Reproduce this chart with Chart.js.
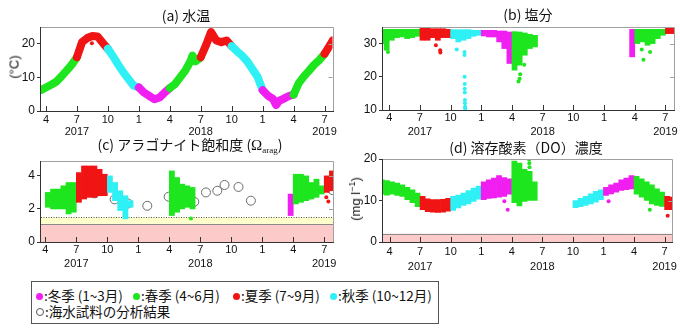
<!DOCTYPE html>
<html><head><meta charset="utf-8">
<script src="https://cdn.jsdelivr.net/npm/chart.js@4"></script>
<style>
html,body{margin:0;padding:0;background:#fff;}
body{width:680px;height:330px;position:relative;overflow:hidden;font-family:"Liberation Sans",Arial,sans-serif;}
canvas{position:absolute;}
.t{position:absolute;font-family:"Noto Sans CJK JP","Liberation Sans",sans-serif;font-size:14px;color:#111;white-space:nowrap;transform:translate(-50%,-50%);line-height:18px;}
.om{font-family:"Liberation Serif","Times New Roman",serif;font-size:15px;}
.om sub{font-size:9px;vertical-align:-3px;}
.yt{position:absolute;white-space:nowrap;font-family:"Liberation Sans",Arial,sans-serif;font-size:13px;color:#111;transform:translate(-50%,-50%) rotate(-90deg);}
.yt sup{font-size:9px;vertical-align:5px;}
#legend{position:absolute;left:31px;top:281px;width:408px;height:43px;box-sizing:border-box;border:1px solid #555;}
.li{position:absolute;white-space:nowrap;font-family:"Noto Sans CJK JP",sans-serif;font-size:13.5px;line-height:16px;color:#111;}
.li i{display:inline-block;width:7px;height:7px;border-radius:50%;margin-right:1px;vertical-align:1px;}
</style></head>
<body>
<canvas id="ca" width="340" height="140" style="left:0;top:0"></canvas>
<canvas id="cb" width="340" height="140" style="left:340px;top:0"></canvas>
<canvas id="cc" width="340" height="140" style="left:0;top:140px"></canvas>
<canvas id="cd" width="340" height="140" style="left:340px;top:140px"></canvas>

<div class="t" style="left:186px;top:15px">(a) 水温</div>
<div class="t" style="left:528px;top:14px">(b) 塩分</div>
<div class="t" style="left:190px;top:147px">(c) アラゴナイト飽和度 (<span class="om">Ω<sub>arag</sub></span>)</div>
<div class="t" style="left:526px;top:147px">(d) 溶存酸素（DO）濃度</div>
<div class="yt" style="left:14px;top:67px">(°C)</div>
<div class="yt" style="left:355px;top:199px">(mg l<sup>−1</sup>)</div>

<div id="legend">
  <div class="li" style="left:4px;top:5px"><i style="background:#f01ef0"></i>:冬季 (1~3月)</div>
  <div class="li" style="left:101px;top:5px"><i style="background:#1ee61e"></i>:春季 (4~6月)</div>
  <div class="li" style="left:201px;top:5px"><i style="background:#f01414"></i>:夏季 (7~9月)</div>
  <div class="li" style="left:298px;top:5px"><i style="background:#2ef0f5"></i>:秋季 (10~12月)</div>
  <div class="li" style="left:4px;top:21px"><i style="background:#fff;border:1px solid #555;width:6px;height:6px"></i>:海水試料の分析結果</div>
</div>

<script>
// ---- axis ticks (x = months since 1 Jan 2017) ----
const monthTicks = [3, 6, 9, 12, 15, 18, 21, 24, 27, 30];
const monthTickLabels = ['4', '7', '10', '1', '4', '7', '10', '1', '4', '7'];
const yearTickLabels = ['', '2017', '', '', '', '2018', '', '', '', '2019'];
const seasonColors = ['#f01ef0', '#1ee61e', '#f01414', '#2ef0f5']; // winter, spring, summer, autumn
const recordStart = 3; // observations before this point belong to the first (spring) batch

// ---- (a) water temperature (°C) ----
const tempX = [2.55, 3, 3.5, 4, 4.5, 5, 5.5, 6, 6.5, 7, 7.5, 8, 8.5, 9, 9.5, 10, 10.5, 11, 11.5, 12,
  12.5, 13, 13.5, 14, 14.5, 15, 15.5, 16, 16.5, 17, 17.2, 17.5, 18, 18.5, 19, 19.5, 20, 20.5, 21,
  21.5, 22, 22.5, 23, 23.5, 24, 24.5, 25, 25.3, 25.6, 26, 26.5, 27, 27.5, 28, 28.5, 29, 29.5, 30, 30.5, 30.8];
const tempY = [6.3, 7.0, 7.8, 8.7, 10.3, 12.0, 13.8, 16.0, 20.5, 21.7, 22.3, 22.2, 20.3, 18.5, 16.3, 13.8, 11.5, 9.5, 7.5, 7.0,
  5.5, 4.5, 3.5, 4.0, 5.5, 6.8, 8.0, 10.0, 12.0, 14.8, 16.5, 14.8, 16.0, 19.5, 23.5, 21.0, 20.5, 21.0, 19.3,
  17.8, 16.5, 14.8, 12.5, 10.2, 6.2, 4.6, 3.6, 1.8, 3.0, 3.6, 4.4, 4.9, 8.3, 10.3, 12.0, 13.8, 15.2, 17.0, 19.5, 21.0];
const tempDotX = [7.45];
const tempDotY = [20.2];

// ---- (b) salinity: half-month bands (low / high) ----
const salX = [2.25, 2.75, 3.25, 3.75, 4.25, 4.75, 5.25, 5.75, 6.25, 6.75, 7.25, 7.75, 8.25, 8.75,
  9.25, 9.75, 10.25, 10.75, 11.25, 11.75, 12.25, 12.75, 13.25, 13.75, 14.25, 14.75, 15.25, 15.75,
  16.25, 16.75, 17.25, 26.75, 27.25, 27.75, 28.25, 28.75, 29.25, 29.75, 30.25, 30.75];
const salLo = [30.0, 28.0, 31.0, 31.8, 32.0, 31.5, 31.8, 32.2, 31.0, 31.0, 31.8, 31.0, 31.8, 31.8,
  31.5, 30.5, 31.0, 31.5, 32.2, 32.5, 32.3, 32.0, 32.0, 30.5, 28.5, 24.0, 22.0, 23.5,
  26.5, 28.5, 29.0, 26.0, 30.0, 30.5, 29.5, 30.0, 31.5, 32.5, 33.0, 33.0];
const salHi = [34.3, 34.3, 34.3, 34.3, 34.3, 34.3, 34.3, 34.3, 35.0, 34.8, 34.5, 34.5, 34.5, 34.3,
  34.2, 34.2, 34.2, 34.2, 34.0, 34.0, 34.0, 34.0, 34.0, 33.8, 33.8, 33.5, 33.6, 33.5,
  33.2, 32.8, 32.5, 34.3, 34.3, 34.3, 34.3, 34.3, 34.3, 34.3, 34.6, 34.6];
const salDotX = [2.87, 7.56, 7.98, 8.0, 9.6, 10.36, 10.36, 10.37, 10.38, 10.38, 10.39, 10.4, 10.4, 10.41, 10.42,
  15.64, 15.74, 15.8, 16.2, 27.69, 27.85, 28.5];
const salDotY = [27.5, 29.5, 28.0, 27.3, 28.2, 27.5, 26.6, 20.0, 17.8, 16.4, 15.3, 13.0, 12.0, 11.0, 10.5,
  18.6, 19.4, 20.8, 23.6, 28.2, 25.1, 27.5];

// ---- (c) aragonite saturation: half-month bands ----
const aragX = [3.25, 3.75, 4.25, 4.75, 5.25, 5.75, 6.25, 6.75, 7.25, 7.75, 8.25, 8.75, 9.25, 9.75,
  10.25, 10.75, 11.25, 15.25, 15.75, 16.25, 16.75, 17.25, 26.75, 27.25, 27.75, 28.25, 28.75,
  29.25, 29.75, 30.25, 30.75];
const aragLo = [2.1, 2.0, 2.0, 2.0, 1.7, 1.8, 2.4, 2.6, 2.7, 2.7, 2.8, 2.8, 3.0, 2.5,
  1.9, 1.4, 2.1, 1.6, 1.8, 2.0, 2.1, 2.0, 1.6, 2.3, 2.4, 2.5, 2.6,
  2.7, 2.9, 3.0, 3.1];
const aragHi = [3.0, 3.2, 3.2, 3.4, 3.6, 3.6, 4.2, 4.6, 4.6, 4.6, 4.4, 4.1, 4.0, 3.6,
  3.1, 2.8, 2.5, 4.3, 3.9, 3.5, 3.4, 3.3, 2.9, 4.1, 4.1, 4.0, 3.6,
  3.8, 3.4, 4.0, 4.3];
const aragDotX = [8.3, 17.1, 30.2, 30.4];
const aragDotY = [4.3, 1.42, 2.7, 2.45];
const sampleX = [7.77, 9.71, 11.0, 12.87, 14.94, 16.45, 17.42, 18.55, 19.65, 20.35, 21.7, 22.9, 28.65, 30.8];
const sampleY = [2.94, 2.58, 2.33, 2.19, 2.74, 2.62, 2.43, 3.0, 3.1, 3.45, 3.33, 2.5, 2.88, 3.14];
const aragLimitLow = 1.1;   // top of pink band
const aragLimitHigh = 1.5;  // dotted line / top of yellow band

// ---- (d) dissolved oxygen (mg/l): half-month bands ----
const doX = [2.25, 2.75, 3.25, 3.75, 4.25, 4.75, 5.25, 5.75, 6.25, 6.75, 7.25, 7.75, 8.25, 8.75,
  9.25, 9.75, 10.25, 10.75, 11.25, 11.75, 12.25, 12.75, 13.25, 13.75, 14.25, 14.75,
  15.25, 15.75, 16.25, 16.75, 17.25, 21.25, 21.75, 22.25, 22.75, 23.25, 23.75,
  24.25, 24.75, 25.25, 25.75, 26.25, 26.75, 27.25, 27.75, 28.25, 28.75, 29.25, 29.75, 30.25, 30.75];
const doLo = [11.5, 11.3, 11.5, 11.2, 11.0, 10.2, 9.5, 8.5, 7.8, 7.3, 7.2, 7.1, 7.2, 7.4,
  7.6, 8.2, 8.8, 9.2, 9.8, 10.3, 10.2, 10.5, 10.6, 10.8, 11.0, 11.5,
  9.5, 8.7, 9.8, 10.0, 10.0, 8.3, 8.5, 8.8, 9.2, 9.6, 10.2,
  11.2, 11.6, 12.0, 12.4, 12.6, 12.8, 11.5, 10.8, 10.0, 9.2, 8.8, 8.6, 7.8, 7.8];
const doHi = [15.0, 14.8, 14.5, 14.2, 13.8, 13.2, 12.6, 11.8, 11.0, 10.4, 10.2, 10.2, 10.3, 10.5,
  11.0, 11.3, 11.8, 12.4, 13.0, 13.5, 14.5, 15.0, 15.4, 16.0, 15.5, 15.2,
  19.5, 19.0, 17.5, 17.0, 14.5, 10.0, 10.5, 11.0, 11.6, 12.2, 12.6,
  13.2, 13.8, 14.2, 15.0, 15.4, 16.0, 15.8, 15.2, 14.5, 13.8, 12.8, 12.0, 11.0, 10.8];
const doDotX = [14.27, 14.6, 16.7, 16.72, 16.74, 24.5, 28.55, 30.3];
const doDotY = [9.8, 7.8, 19.8, 19.0, 18.0, 9.8, 7.8, 6.3];
const doLimit = 2;

// ---- helpers ----
function seasonOf(x) {
  if (x < recordStart) return 1;
  const m = ((Math.floor(x) % 12) + 12) % 12; return Math.floor(m / 3);
}
function colorAt(x) { return seasonColors[seasonOf(x)]; }
const pts = (xs, ys) => xs.map((x, i) => ({ x: x, y: ys[i] }));
const bandPts = (xs, lo, hi) => xs.map((x, i) => ({ x: x, y: [lo[i], hi[i]] }));

const framePlugin = {
  id: 'frame',
  beforeDatasetsDraw(chart, args, opts) {
    const { ctx, chartArea: a, scales: { y } } = chart;
    ctx.save();
    (opts.bands || []).forEach(b => {
      const y0 = y.getPixelForValue(b.from), y1 = y.getPixelForValue(b.to);
      ctx.fillStyle = b.color;
      ctx.fillRect(a.left, y1, a.right - a.left, y0 - y1);
      if (b.line) {
        ctx.strokeStyle = b.line; ctx.lineWidth = 1;
        ctx.setLineDash(b.dash || []);
        ctx.beginPath();
        const py = Math.round(y1) + 0.5;
        ctx.moveTo(a.left, py); ctx.lineTo(a.right, py); ctx.stroke();
        ctx.setLineDash([]);
      }
    });
    ctx.restore();
  },
  afterDatasetsDraw(chart) {
    const { ctx, chartArea: a, scales: { x, y } } = chart;
    ctx.save();
    ctx.lineWidth = 1;
    ctx.strokeStyle = '#a0a0a0';
    ctx.beginPath();
    ctx.moveTo(a.left, Math.round(a.top) + 0.5);
    ctx.lineTo(Math.round(a.right) + 0.5, Math.round(a.top) + 0.5);
    ctx.lineTo(Math.round(a.right) + 0.5, a.bottom);
    y.ticks.forEach(t => {
      const py = Math.round(y.getPixelForValue(t.value)) + 0.5;
      ctx.moveTo(a.right, py); ctx.lineTo(a.right - 4, py);
    });
    ctx.stroke();
    ctx.strokeStyle = '#333';
    ctx.beginPath();
    ctx.moveTo(Math.round(a.left) - 0.5, a.top);
    ctx.lineTo(Math.round(a.left) - 0.5, Math.round(a.bottom) + 0.5);
    ctx.lineTo(Math.round(a.right) + 1, Math.round(a.bottom) + 0.5);
    x.ticks.forEach(t => {
      const px = Math.round(x.getPixelForValue(t.value)) + 0.5;
      ctx.moveTo(px, a.bottom); ctx.lineTo(px, a.bottom - 5);
    });
    ctx.stroke();
    ctx.restore();
  }
};

function makeChart(id, type, datasets, o) {
  return new Chart(document.getElementById(id), {
    type: type,
    data: { datasets: datasets },
    options: {
      responsive: false, animation: false, events: [],
      layout: { padding: { left: 0, right: o.padR, top: o.padT, bottom: 0 } },
      plugins: { legend: { display: false }, tooltip: { enabled: false }, frame: { bands: o.bands || [] } },
      datasets: { bar: { grouped: false, categoryPercentage: 1, barPercentage: 1, borderWidth: 0 } },
      scales: {
        x: {
          type: 'linear', min: o.xmin, max: o.xmax, offset: false,
          grid: { display: false, drawTicks: false, offset: false }, border: { display: false },
          afterBuildTicks: s => { s.ticks = monthTicks.map(v => ({ value: v })); },
          afterFit: s => { s.height = o.xh; },
          ticks: {
            autoSkip: false, maxRotation: 0, padding: o.xpad, color: '#111',
            font: { family: 'Liberation Sans', size: 11, lineHeight: o.xlh },
            callback: v => {
              const i = monthTicks.indexOf(v);
              return yearTickLabels[i] ? [monthTickLabels[i], yearTickLabels[i]] : monthTickLabels[i];
            }
          }
        },
        y: {
          min: o.ymin, max: o.ymax,
          afterFit: s => { s.width = o.yw; },
          border: { display: false },
          grid: { drawOnChartArea: false, tickLength: 4, color: '#333' },
          ticks: { stepSize: o.step, includeBounds: false, padding: 2, color: '#111',
            font: { family: 'Liberation Sans', size: 12 } }
        }
      }
    },
    plugins: [framePlugin]
  });
}

function dotSet(xs, ys) {
  return { type: 'scatter', data: pts(xs, ys), pointRadius: 2, pointBorderWidth: 0, clip: 0,
    pointBackgroundColor: c => colorAt(c.raw ? c.raw.x : 0) };
}
function bandSet(xs, lo, hi) {
  return { type: 'bar', data: bandPts(xs, lo, hi), clip: 0,
    backgroundColor: c => colorAt(c.raw ? c.raw.x : 0) };
}

// (a)
makeChart('ca', 'line', [
  { data: pts(tempX, tempY), borderWidth: 8, pointRadius: 0, clip: 0, tension: 0,
    borderCapStyle: 'round', borderJoinStyle: 'round', borderColor: seasonColors[1],
    segment: { borderColor: c => colorAt((c.p0.parsed.x + c.p1.parsed.x) / 2) } },
  dotSet(tempDotX, tempDotY)
], { xmin: 2.52, xmax: 30.77, ymin: 0, ymax: 25, step: 10, yw: 41, padR: 7, padT: 27, xh: 29, xpad: 3, xlh: 1.1 });

// (b)
makeChart('cb', 'bar', [
  bandSet(salX, salLo, salHi),
  dotSet(salDotX, salDotY)
], { xmin: 2.39, xmax: 30.84, ymin: 10, ymax: 35, step: 10, yw: 43, padR: 6, padT: 27, xh: 30, xpad: 0, xlh: 1.36 });

// (c)
makeChart('cc', 'bar', [
  bandSet(aragX, aragLo, aragHi),
  dotSet(aragDotX, aragDotY),
  { type: 'scatter', data: pts(sampleX, sampleY), pointRadius: 4.5, pointBorderWidth: 1, clip: 0,
    pointBackgroundColor: 'rgba(0,0,0,0)', pointBorderColor: '#6a6a6a' }
], { xmin: 2.58, xmax: 30.85, ymin: 0, ymax: 4.9, step: 2, yw: 41, padR: 7, padT: 21, xh: 38, xpad: 1, xlh: 1.27,
  bands: [
    { from: 0, to: aragLimitLow, color: '#fdcaca', line: '#8a8a8a' },
    { from: aragLimitLow, to: aragLimitHigh, color: '#ffffcc', line: '#555', dash: [1, 1.5] }
  ] });

// (d)
makeChart('cd', 'bar', [
  bandSet(doX, doLo, doHi),
  dotSet(doDotX, doDotY)
], { xmin: 2.36, xmax: 30.74, ymin: 0, ymax: 20, step: 10, yw: 43, padR: 6, padT: 19, xh: 38, xpad: 3, xlh: 1.32,
  bands: [ { from: 0, to: doLimit, color: '#fdcaca', line: '#8a8a8a' } ] });
</script>
</body></html>
